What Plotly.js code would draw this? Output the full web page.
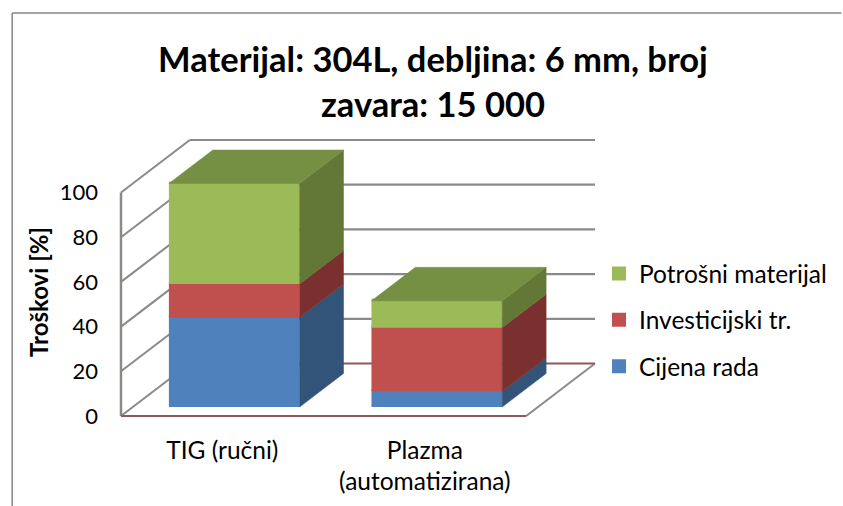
<!DOCTYPE html>
<html>
<head>
<meta charset="utf-8">
<script src="https://cdn.plot.ly/plotly-3.0.1.min.js"></script>
<style>html,body{margin:0;padding:0;background:#fff;overflow:hidden}#chart{width:843px;height:506px}</style>
</head>
<body>
<div id="chart"></div>
<script>
// --- data ---
const categories = ['TIG (ručni)', 'Plazma<br>(automatizirana)'];
const categoryPositions = [0, 1];
const seriesNames = ['Cijena rada', 'Investicijski tr.', 'Potrošni materijal'];
const cijenaRada = [40, 7];
const investicijski = [15, 28.5];
const potrosni = [45, 12];
const yTickValues = [0, 20, 40, 60, 80, 100];

// --- style ---
const frontColors = ['#4F81BD', '#C0504D', '#9BBB59'];
const sideColors = ['#325479', '#7A302F', '#637736'];
const topColor = '#758F43';
const gridColor = '#8A8A86';
const floorColor = '#8A5A5A';

// --- oblique projection, in axis units ---
const W = 843, H = 506;
const L = 110, R = 600, T = 130, B = 454;
const originPx = 121;
const pxX = 203, pxY = 2.235;
const left = -0.5, right = 1.5;
const xMin = left - (originPx - L) / pxX, xMax = xMin + (R - L) / pxX;
const yMin = -(B - 416) / pxY, yMax = (416 - T) / pxY;
const wallDX = 69 / pxX, wallDY = 52.5 / pxY;
const barShiftX = 12 / pxX, barShiftY = 9 / pxY;
const barSideDX = 44 / pxX, barSideDY = 33.5 / pxY;
const barWidth = 131 / pxX;
const outlinePx = 2;

const allSeries = [cijenaRada, investicijski, potrosni];
const traces = [];
const barX = categoryPositions.map(p => p + barShiftX);
const cumulative = categoryPositions.map(() => 0);

allSeries.forEach((vals, s) => {
  const bases = cumulative.map(c => c + barShiftY + (outlinePx / 2) / pxY);
  traces.push({
    type: 'bar', name: seriesNames[s], x: barX, y: vals, base: bases,
    width: barWidth - outlinePx / pxX,
    marker: {color: frontColors[s], line: {color: frontColors[s], width: outlinePx}},
    legendgroup: seriesNames[s], legendrank: 3 - s, hoverinfo: 'skip'
  });
  vals.forEach((v, i) => { cumulative[i] += v; });
});

// side and top faces derive from the same values
const runSum = categoryPositions.map(() => 0);
allSeries.forEach((vals, s) => {
  vals.forEach((v, i) => {
    const x1 = barX[i] + barWidth / 2;
    const y0 = runSum[i] + barShiftY, y1 = y0 + v;
    traces.push({
      type: 'scatter', mode: 'lines', showlegend: false, hoverinfo: 'skip', fill: 'toself',
      x: [x1, x1 + barSideDX, x1 + barSideDX, x1, x1],
      y: [y0, y0 + barSideDY, y1 + barSideDY, y1, y0],
      fillcolor: sideColors[s], line: {width: 0.5, color: sideColors[s]}
    });
    runSum[i] += v;
  });
});
categoryPositions.forEach((p, i) => {
  const x0 = barX[i] - barWidth / 2, x1 = barX[i] + barWidth / 2;
  const y = cumulative[i] + barShiftY;
  traces.push({
    type: 'scatter', mode: 'lines', showlegend: false, hoverinfo: 'skip', fill: 'toself',
    x: [x0, x1, x1 + barSideDX, x0 + barSideDX, x0],
    y: [y, y, y + barSideDY, y + barSideDY, y],
    fillcolor: topColor, line: {width: 0.5, color: topColor}
  });
});

// walls and floor as shapes under the bars
const shapes = [];
const line = (x0, y0, x1, y1, color, width) => shapes.push({
  type: 'line', xref: 'x', yref: 'y', layer: 'below', x0, y0, x1, y1, line: {color, width}
});
yTickValues.forEach(v => {
  if (v > 0) {
    line(left, v, left + wallDX, v + wallDY, gridColor, 2);
    line(left + wallDX, v + wallDY, right + wallDX, v + wallDY, gridColor, 2.2);
  }
});
line(left, 0, left, 100, gridColor, 2.5);
line(left, 0, left + wallDX, wallDY, gridColor, 2);
line(right, 0, right + wallDX, wallDY, gridColor, 2);
line(left + wallDX, wallDY, right + wallDX, wallDY, floorColor, 2.2);
line(left, 0, right, 0, floorColor, 2.2);
// chart frame
shapes.push({type: 'line', xref: 'paper', yref: 'paper', layer: 'below',
  x0: (12 - L) / (R - L), x1: (W - L) / (R - L), y0: (B - 13) / (B - T), y1: (B - 13) / (B - T),
  line: {color: '#868686', width: 1.5}});
shapes.push({type: 'line', xref: 'paper', yref: 'paper', layer: 'below',
  x0: (12 - L) / (R - L), x1: (12 - L) / (R - L), y0: (B - 13) / (B - T), y1: (B - H) / (B - T),
  line: {color: '#868686', width: 1.5}});

const fontFamily = 'Lato, "Open Sans", sans-serif';
const layout = {
  width: W, height: H,
  paper_bgcolor: '#fff', plot_bgcolor: 'rgba(0,0,0,0)',
  margin: {l: L, r: W - R, t: T, b: H - B, pad: 0},
  barmode: 'overlay',
  font: {family: fontFamily, size: 24, color: '#000'},
  title: {
    text: 'Materijal: 304L, debljina: 6 mm, broj<br>zavara: 15 000',
    font: {family: fontFamily, size: 34.5, color: '#000', weight: 700},
    x: 433 / W, xanchor: 'center', y: 0.8575, yanchor: 'bottom', yref: 'container'
  },
  xaxis: {
    range: [xMin, xMax], tickmode: 'array', tickvals: categoryPositions, ticktext: categories,
    showgrid: false, zeroline: false, showline: false, ticks: '', ticklabelstandoff: -21,
    tickfont: {family: fontFamily, size: 24.5, color: '#000'}, fixedrange: true
  },
  yaxis: {
    range: [yMin, yMax], tickmode: 'array', tickvals: yTickValues,
    showgrid: false, zeroline: false, showline: false, ticks: '', ticklabelstandoff: 11,
    tickfont: {family: fontFamily, size: 22, color: '#000'}, fixedrange: true,
    title: {text: '<b>Troškovi [%]</b>', font: {family: fontFamily, size: 24, color: '#000'}, standoff: 4}
  },
  showlegend: true,
  legend: {
    x: (599 - L) / (R - L), xanchor: 'left', y: (B - 251) / (B - T), yanchor: 'top',
    traceorder: 'grouped', tracegroupgap: 11.5,
    font: {family: fontFamily, size: 24.5, color: '#000'}, bgcolor: 'rgba(0,0,0,0)'
  },
  shapes
};
Plotly.newPlot('chart', traces, layout, {displayModeBar: false, staticPlot: true});
</script>
</body>
</html>
